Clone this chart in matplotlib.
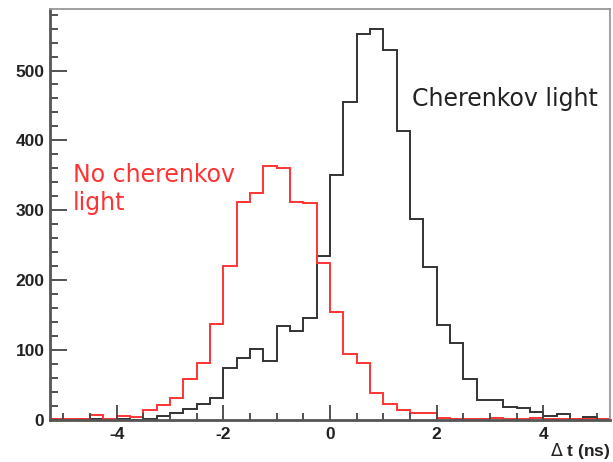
import numpy as np
import matplotlib.pyplot as plt
from matplotlib.ticker import MultipleLocator

plt.rcParams['axes.unicode_minus'] = False

# bin edges: 42 bins of 0.25 ns from -5.25 to 5.25
edges = np.linspace(-5.25, 5.25, 43)

# counts without cherenkov light (red)
no_cherenkov = [1, 1, 1, 7, 1, 6, 4, 15, 22, 31, 58, 81, 138, 220,
                312, 325, 364, 361, 312, 310, 224, 154, 94, 81, 38, 23,
                15, 10, 10, 3, 2, 1, 1, 3, 1, 2, 3, 1, 1, 1, 1, 1]

# counts with cherenkov light (black)
cherenkov = [1, 0, 2, 1, 0, 1, 0, 2, 6, 10, 16, 23, 31, 74,
             89, 101, 84, 134, 127, 146, 235, 350, 455, 552, 560, 530,
             414, 288, 219, 136, 110, 58, 28, 29, 18, 17, 12, 6, 9, 2, 5, 2]

fig = plt.figure(figsize=(6.13, 4.62), dpi=100)
ax = fig.add_axes([50/613, 1 - 420/462, 560/613, 411/462])

ax.stairs(cherenkov, edges, color='#333333', lw=1.4)
ax.stairs(no_cherenkov, edges, color='#ff3333', lw=1.4)

ax.set_xlim(-5.25, 5.25)
ax.set_ylim(0, 588)
ax.xaxis.set_major_locator(MultipleLocator(2))
ax.xaxis.set_minor_locator(MultipleLocator(0.5))
ax.yaxis.set_major_locator(MultipleLocator(100))
ax.yaxis.set_minor_locator(MultipleLocator(20))
ax.tick_params(which='both', direction='in', top=False, right=False,
               color='#444444', width=1.3)
ax.tick_params(axis='y', which='major', length=12, pad=4)
ax.tick_params(axis='y', which='minor', length=6)
ax.tick_params(axis='x', which='major', length=11, pad=5)
ax.tick_params(axis='x', which='minor', length=5)
for lab in ax.get_xticklabels() + ax.get_yticklabels():
    lab.set_fontfamily('Liberation Sans')
    lab.set_fontweight('bold')
    lab.set_fontsize(12.5)
    lab.set_color('#222222')

for side in ['left', 'bottom']:
    ax.spines[side].set_color('#555555')
    ax.spines[side].set_linewidth(2)
for side in ['top', 'right']:
    ax.spines[side].set_color('#999999')
    ax.spines[side].set_linewidth(1.3)

ax.text(1.53, 449, 'Cherenkov light', fontsize=17, color='#222222',
        family='DejaVu Sans', va='baseline')
ax.text(-4.82, 341, 'No cherenkov', fontsize=17, color='#ff3333',
        family='DejaVu Sans', va='baseline')
ax.text(-4.82, 300, 'light', fontsize=17, color='#ff3333',
        family='DejaVu Sans', va='baseline')

fig.text(610/613, 1 - 461/462, r'$\Delta$ t (ns)', ha='right', va='bottom',
         fontsize=12.5, fontweight='bold', family='Liberation Sans',
         color='#222222')

fig.savefig('out.png', dpi=100)
